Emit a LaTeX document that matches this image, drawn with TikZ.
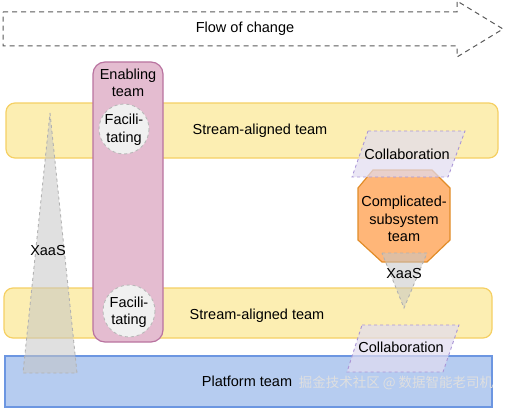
\documentclass[tikz,border=0pt]{standalone}
\usepackage{fontspec}
\setmainfont{Liberation Sans}
\newfontfamily\cjk{Noto Sans CJK SC}
\usetikzlibrary{positioning}

\definecolor{streamfill}{RGB}{252,238,178}
\definecolor{streamdraw}{RGB}{245,208,100}
\definecolor{enablefill}{RGB}{228,188,208}
\definecolor{enabledraw}{RGB}{185,115,160}
\definecolor{platfill}{RGB}{182,204,240}
\definecolor{platdraw}{RGB}{108,150,225}
\definecolor{cssfill}{RGB}{255,182,120}
\definecolor{cssdraw}{RGB}{225,140,40}
\definecolor{collfill}{RGB}{225,220,240}
\definecolor{colldraw}{RGB}{170,150,215}

\tikzstyle{label} = [font=\fontsize{14.5}{17.5}\selectfont, align=center, inner sep=0pt]
\tikzstyle{stream} = [draw=streamdraw, fill=streamfill, line width=1.2pt, rounded corners=9pt]
\tikzstyle{platform} = [draw=platdraw, fill=platfill, line width=1.2pt]
\tikzstyle{enabling} = [draw=enabledraw, fill=enablefill, line width=1.2pt, rounded corners=12pt]
\tikzstyle{facil} = [draw=gray!55, dashed, fill=gray!12, line width=0.9pt]
\tikzstyle{xaas} = [draw=gray!60, dashed, fill=gray!45, fill opacity=0.55, line width=0.9pt]
\tikzstyle{collab} = [draw=colldraw, dashed, fill=collfill, fill opacity=0.7, line width=0.9pt]
\tikzstyle{flow} = [draw=gray!70!black, dash pattern=on 5pt off 4pt, line width=1pt]

\begin{document}
\begin{tikzpicture}[x=1pt, y=-1pt]
        \useasboundingbox (0,0) rectangle (505,409);

        % flow of change arrow
        \draw [flow] (3,12) -- (457,12) -- (457,1) -- (503,29) -- (457,57) -- (457,46) -- (3,46) -- cycle;
        \node (flow) [label] at (245,29) {Flow of change};

        % team bands
        \draw [stream] (6,103) rectangle (498,158);
        \node (sa1) [label] at (260,131) {Stream-aligned team};
        \draw [stream] (4,288) rectangle (492,338);
        \node (sa2) [label] at (257,316) {Stream-aligned team};
        \draw [platform] (5,356) rectangle (492,407);
        \node (plat) [label] at (247,381) {Platform team};

        % enabling team
        \draw [enabling] (93,62) rectangle (163,342);
        \node (en) [label] at (128,83) {Enabling\\team};
        \draw [facil] (124,129) circle (25);
        \node (fac1) [label] at (124,130) {Facili-\\tating};
        \draw [facil] (129,311) circle (26);
        \node (fac2) [label] at (129,312) {Facili-\\tating};

        % left XaaS
        \draw [xaas] (50,113) -- (77,373) -- (23,373) -- cycle;
        \node (xaas1) [label] at (48,251) {XaaS};

        % complicated-subsystem team
        \draw [draw=cssdraw, fill=cssfill, line width=1.2pt]
            (373,170) -- (432,170) -- (450,188) -- (450,240) -- (427,262)
            -- (382,262) -- (358,240) -- (358,188) -- cycle;
        \node (css) [label] at (404,219) {Complicated-\\subsystem\\team};

        % right XaaS
        \draw [xaas] (382,253) -- (427,253) -- (404,308) -- cycle;
        \node (xaas2) [label] at (404,274) {XaaS};

        % collaborations
        \draw [collab] (368,131) -- (465,131) -- (448,177) -- (352,177) -- cycle;
        \node (col1) [label] at (407,154) {Collaboration};
        \draw [collab] (362,325) -- (459,325) -- (443,372) -- (347,372) -- cycle;
        \node (col2) [label] at (401,347) {Collaboration};

        \node (wm) [font=\cjk\fontsize{13.5}{15}\selectfont, text=white!75!gray, inner sep=0pt] at (396,383) {掘金技术社区 @ 数据智能老司机};
    \end{tikzpicture}
\end{document}
